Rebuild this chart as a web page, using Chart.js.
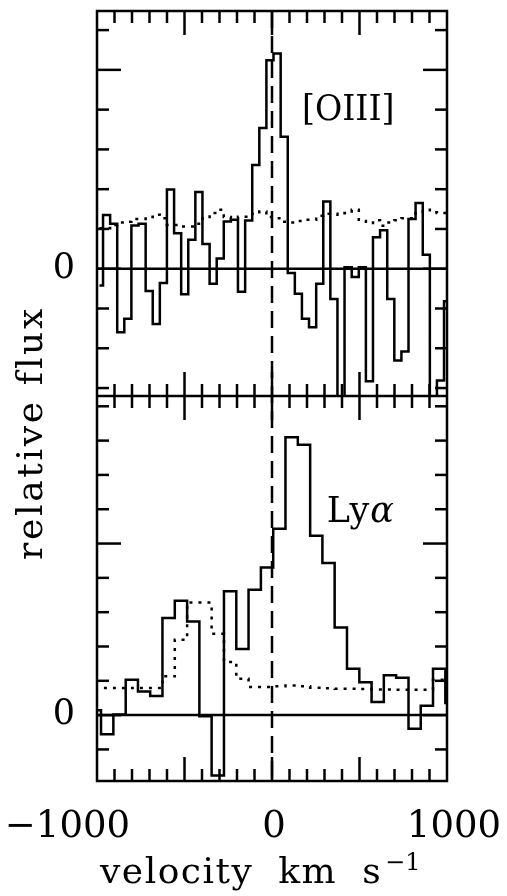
<!DOCTYPE html>
<html><head><meta charset="utf-8">
<script src="https://cdn.jsdelivr.net/npm/chart.js@4.4.1/dist/chart.umd.min.js"></script>
<style>html,body{margin:0;padding:0;background:#fff;}canvas{display:block;}</style>
</head><body>
<canvas id="c" width="507" height="896"></canvas>
<script>
// ---- data ----
const oiiiVelocity = [-986,-945,-905,-864,-824,-783,-742,-702,-661,-621,-580,-539,-499,-458,-418,-377,-336,-296,-255,-215,-174,-133,-93,-52,-12,29,70,110,151,191,232,273,313,354,394,435,476,516,557,597,638,679,719,760,800,841,882,922,963,1003];
const oiiiFlux = [-0.42,1.35,1.13,-1.60,-1.26,1.09,1.13,-0.56,-1.39,-0.36,1.99,0.89,-0.64,0.73,1.93,0.62,-0.38,0.26,1.19,1.23,-0.58,1.21,2.61,3.54,5.24,5.41,3.32,-0.11,-0.63,-1.26,-1.47,-0.38,1.69,-0.76,-3.6,0.04,-0.21,0.04,-2.83,0.79,0.97,-0.76,-2.31,-2.08,1.25,1.65,0.35,-3.6,-2.81,-0.82];
const oiiiNoise = [1.02,1.02,1.10,1.16,1.18,1.25,1.25,1.30,1.36,1.27,1.10,1.10,1.06,1.06,1.13,1.27,1.40,1.48,1.30,1.26,1.31,1.31,1.38,1.44,1.30,1.27,1.18,1.16,1.20,1.23,1.23,1.33,1.38,1.38,1.36,1.40,1.48,1.20,1.15,1.22,1.08,1.16,1.22,1.27,1.27,1.40,1.48,1.42,1.40,1.40];

const lyaVelocity = [-1012,-942,-871,-801,-731,-661,-591,-520,-450,-380,-310,-239,-169,-99,-28,42,112,183,253,323,393,464,534,604,674,745,815,885,955,1026];
const lyaFlux = [0.14,-0.56,0.02,1.03,0.69,0.56,2.83,3.33,2.73,-0.03,-1.76,3.61,1.93,3.65,4.30,5.43,8.10,7.88,5.23,4.43,2.55,1.35,0.96,0.38,1.16,1.09,-0.40,0.27,1.35,0.35];
const lyaNoise = [0.79,0.79,0.79,0.79,0.79,0.79,1.13,2.20,3.28,3.28,2.37,1.55,1.06,0.82,0.82,0.84,0.86,0.84,0.80,0.78,0.77,0.77,0.76,0.75,0.75,0.74,0.74,0.74,1.03,1.03];

const xTickLabels = [-1000, 0, 1000];
const yTickLabels = [0];
const xRange = [-1000, 1000];
const topRange = [-3.2, 6.48];
const botRange = [-1.92, 9.3];
const xMinorStep = 100, xMajorStep = 500, yMinorStep = 1, yMajorStep = 5;
const panelLabels = [
  {text: '[OIII]', axis: 'yTop', x: 171, y: 3.74},
  {text: 'Ly', greek: 'α', axis: 'yBot', x: 313, y: 5.63}
];
const xTitle = 'velocity km s';
const xTitleSup = '\u22121';
const yTitle = 'relative flux';

// ---- chart ----
const FONT = '"DejaVu Serif", "Liberation Serif", serif';
const LW = 2.5;
const pts = (xs, ys) => xs.map((v, i) => ({x: v, y: ys[i]}));

function line(ctx, x1, y1, x2, y2) { ctx.beginPath(); ctx.moveTo(x1, y1); ctx.lineTo(x2, y2); ctx.stroke(); }

const panelPlugin = {
  id: 'panels',
  beforeDatasetDraw(chart, args) {
    const {ctx, chartArea: a} = chart;
    const ys = args.meta.yScale;
    ctx.save();
    ctx.beginPath();
    ctx.rect(a.left, ys.top, a.right - a.left, ys.bottom - ys.top);
    ctx.clip();
  },
  afterDatasetDraw(chart) { chart.ctx.restore(); },
  afterDatasetsDraw(chart) {
    const {ctx, chartArea: a, scales} = chart;
    const x = scales.x;
    ctx.save();
    ctx.strokeStyle = '#000';
    ctx.lineWidth = LW;
    ctx.lineCap = 'butt';
    for (const ys of [scales.yTop, scales.yBot]) {
      const y0 = ys.getPixelForValue(0);
      line(ctx, a.left, y0, a.right, y0);
      for (let v = xRange[0] + xMinorStep; v < xRange[1]; v += xMinorStep) {
        const px = x.getPixelForValue(v);
        const len = (v % xMajorStep === 0) ? 24 : 12;
        line(ctx, px, ys.top, px, ys.top + len);
        line(ctx, px, ys.bottom, px, ys.bottom - len);
      }
      for (let v = Math.ceil(ys.min); v <= Math.floor(ys.max); v += yMinorStep) {
        const py = ys.getPixelForValue(v);
        const len = (v % yMajorStep === 0) ? 24 : 12;
        line(ctx, a.left, py, a.left + len, py);
        line(ctx, a.right, py, a.right - len, py);
      }
    }
    ctx.strokeRect(a.left, a.top, a.right - a.left, a.bottom - a.top);
    line(ctx, a.left, scales.yTop.bottom, a.right, scales.yTop.bottom);
    ctx.setLineDash([17, 8]);
    const x0 = x.getPixelForValue(0);
    line(ctx, x0, a.top, x0, a.bottom);
    ctx.setLineDash([]);

    // texts
    ctx.fillStyle = '#000';
    ctx.textBaseline = 'alphabetic';
    ctx.font = '37px ' + FONT;
    for (const v of xTickLabels) {
      const px = x.getPixelForValue(v);
      const s = v < 0 ? '\u2212' + Math.abs(v) : String(v);
      if (v < 0) { ctx.textAlign = 'right'; ctx.fillText(s, px + 33, a.bottom + 56); }
      else if (v > 0) { ctx.textAlign = 'right'; ctx.fillText(s, px + 54, a.bottom + 56); }
      else { ctx.textAlign = 'center'; ctx.fillText(s, px + 2, a.bottom + 56); }
    }
    // x title
    ctx.font = '36px ' + FONT;
    ctx.textAlign = 'left';
    ctx.letterSpacing = '1.5px';
    ctx.wordSpacing = '12px';
    const tx = 100, ty = a.bottom + 102;
    ctx.fillText(xTitle, tx, ty);
    const w = ctx.measureText(xTitle).width;
    ctx.letterSpacing = '0px';
    ctx.wordSpacing = '0px';
    ctx.font = '24px ' + FONT;
    ctx.fillText(xTitleSup, tx + w + 3, ty - 13);
    // y title
    ctx.save();
    ctx.translate(42, 433);
    ctx.rotate(-Math.PI / 2);
    ctx.font = '36px ' + FONT;
    ctx.letterSpacing = '2.7px';
    ctx.textAlign = 'center';
    ctx.fillText(yTitle, 0, 0);
    ctx.letterSpacing = '0px';
    ctx.restore();
    // panel labels
    for (const L of panelLabels) {
      const px = x.getPixelForValue(L.x);
      const py = scales[L.axis].getPixelForValue(L.y);
      ctx.textAlign = 'left';
      ctx.save();
      ctx.translate(px, py);
      if (L.greek) {
        ctx.font = '35px ' + FONT;
        ctx.fillText(L.text, 0, 0);
        const ww = ctx.measureText(L.text).width;
        ctx.font = 'italic 35px ' + FONT;
        ctx.fillText(L.greek, ww + 1, 0);
      } else {
        ctx.scale(0.95, 1);
        ctx.font = '35px ' + FONT;
        ctx.fillText(L.text, 0, 0);
      }
      ctx.restore();
    }
    ctx.restore();
  }
};

const yScale = (range, weight) => ({
  type: 'linear', position: 'left', stack: 'panels', stackWeight: 1, weight: weight,
  min: range[0], max: range[1],
  grid: {display: false}, border: {display: false},
  ticks: {font: {family: FONT, size: 35}, color: '#000', padding: 14},
  afterBuildTicks(s) { s.ticks = yTickLabels.map(v => ({value: v})); },
  afterFit(s) { s.width = 97; s.paddingTop = 0; s.paddingBottom = 0; }
});

new Chart(document.getElementById('c'), {
  type: 'line',
  data: {
    datasets: [
      {label: '[OIII]', data: pts(oiiiVelocity, oiiiFlux), yAxisID: 'yTop', stepped: 'middle',
       borderColor: '#000', borderWidth: LW, pointRadius: 0, fill: false},
      {label: '[OIII] noise', data: pts(oiiiVelocity, oiiiNoise), yAxisID: 'yTop', stepped: 'middle',
       borderColor: '#000', borderWidth: LW, borderDash: [3, 6], pointRadius: 0, fill: false},
      {label: 'Lyα', data: pts(lyaVelocity, lyaFlux), yAxisID: 'yBot', stepped: 'middle',
       borderColor: '#000', borderWidth: LW, pointRadius: 0, fill: false},
      {label: 'Lyα noise', data: pts(lyaVelocity, lyaNoise), yAxisID: 'yBot', stepped: 'middle',
       borderColor: '#000', borderWidth: LW, borderDash: [3, 6], pointRadius: 0, fill: false}
    ]
  },
  options: {
    responsive: false, animation: false, devicePixelRatio: 1,
    layout: {padding: {top: 11, right: 60, bottom: 0, left: 0}, autoPadding: false},
    plugins: {legend: {display: false}, tooltip: {enabled: false}},
    elements: {point: {radius: 0}, line: {tension: 0}},
    scales: {
      x: {type: 'linear', position: 'bottom', min: xRange[0], max: xRange[1],
          grid: {display: false}, border: {display: false}, ticks: {display: false},
          afterFit(s) { s.height = 115; s.paddingLeft = 0; s.paddingRight = 0; }},
      yTop: yScale(topRange, 1),
      yBot: yScale(botRange, 0)
    }
  },
  plugins: [panelPlugin]
});
</script>
</body></html>
